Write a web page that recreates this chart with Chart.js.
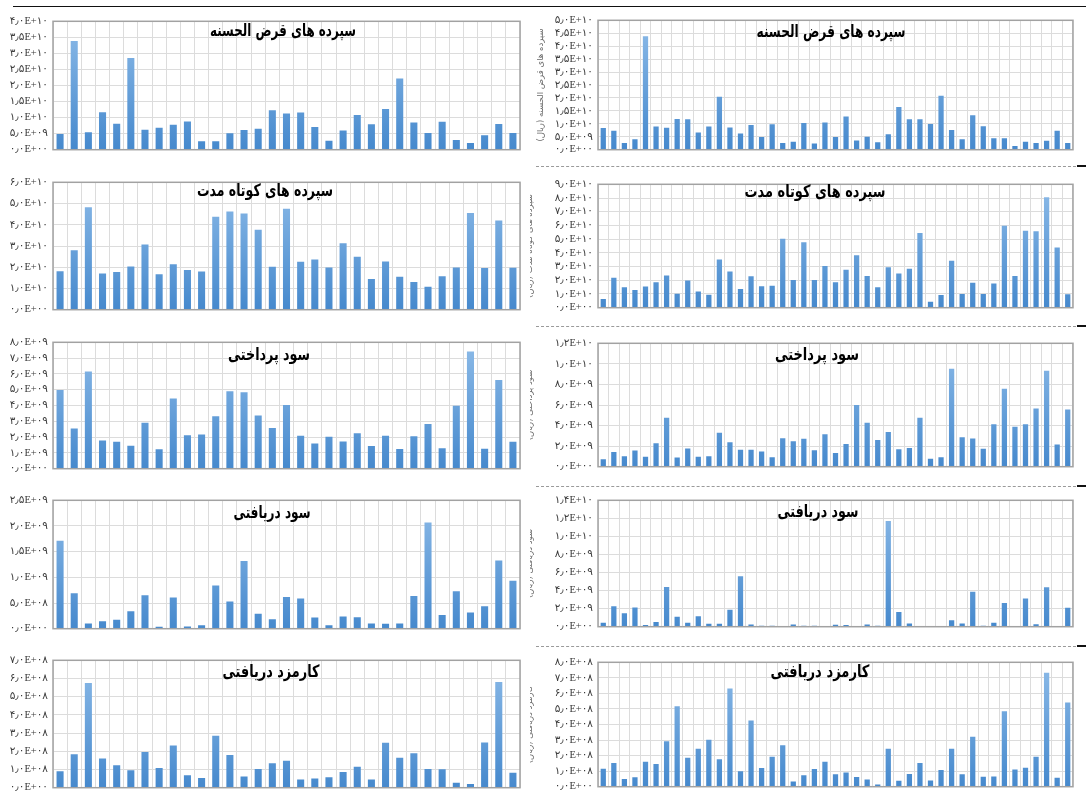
<!DOCTYPE html>
<html>
<head>
<meta charset="utf-8">
<script src="https://cdn.jsdelivr.net/npm/chart.js@4.4.1/dist/chart.umd.min.js"></script>
<style>
  html, body { margin: 0; padding: 0; background: #ffffff; }
  body { width: 1086px; height: 798px; position: relative; overflow: hidden; }
  .panel { position: absolute; overflow: hidden; }
  .panel canvas { position: absolute; top: 0; }
  .rule { position: absolute; height: 0; }
</style>
</head>
<body>
<!-- page rules -->
<div class="rule" style="left:13px; top:6px; width:1073px; border-top:1.5px solid #111;"></div>
<div class="rule" style="left:536px; top:166px; width:540px; border-top:1px dashed #9a9a9a;"></div>
<div class="rule" style="left:1077px; top:165px; width:9px; border-top:2px solid #111;"></div>
<div class="rule" style="left:536px; top:326px; width:540px; border-top:1px dashed #9a9a9a;"></div>
<div class="rule" style="left:1077px; top:325px; width:9px; border-top:2px solid #111;"></div>
<div class="rule" style="left:536px; top:486px; width:540px; border-top:1px dashed #9a9a9a;"></div>
<div class="rule" style="left:1077px; top:485px; width:9px; border-top:2px solid #111;"></div>
<div class="rule" style="left:536px; top:646px; width:540px; border-top:1px dashed #9a9a9a;"></div>
<div class="rule" style="left:1077px; top:645px; width:9px; border-top:2px solid #111;"></div>

<script>
// ---- categories (one bar per bank) ----
const banksA = [1,2,3,4,5,6,7,8,9,10,11,12,13,14,15,16,17,18,19,20,21,22,23,24,25,26,27,28,29,30,31,32,33];
const banksB = [1,2,3,4,5,6,7,8,9,10,11,12,13,14,15,16,17,18,19,20,21,22,23,24,25,26,27,28,29,30,31,32,33,34,35,36,37,38,39,40,41,42,43,44,45];

// ---- series values (ریال) ----
const gharzHasanehA = [4.9e9, 3.39e10, 5.4e9, 1.17e10, 8.1e9, 2.86e10, 6.2e9, 6.8e9, 7.8e9, 8.8e9, 2.6e9, 2.6e9, 5.1e9, 6.1e9, 6.5e9, 1.23e10, 1.13e10, 1.16e10, 7.1e9, 2.8e9, 6.0e9, 1.08e10, 7.9e9, 1.27e10, 2.22e10, 8.5e9, 5.2e9, 8.7e9, 3.0e9, 2.1e9, 4.5e9, 8.0e9, 5.2e9];
const gharzHasanehB = [8.4e9, 7.3e9, 2.6e9, 4.0e9, 4.38e10, 9.0e9, 8.5e9, 1.19e10, 1.18e10, 6.6e9, 9.0e9, 2.05e10, 8.6e9, 6.3e9, 9.5e9, 4.9e9, 9.8e9, 2.6e9, 3.1e9, 1.03e10, 2.4e9, 1.05e10, 4.9e9, 1.28e10, 3.6e9, 5.0e9, 2.9e9, 6.0e9, 1.65e10, 1.18e10, 1.18e10, 9.9e9, 2.08e10, 7.6e9, 4.0e9, 1.33e10, 9.1e9, 4.4e9, 4.4e9, 1.4e9, 3.1e9, 2.6e9, 3.5e9, 7.3e9, 2.6e9];

const shortTermA = [1.81e10, 2.80e10, 4.82e10, 1.70e10, 1.78e10, 2.04e10, 3.07e10, 1.67e10, 2.14e10, 1.87e10, 1.80e10, 4.38e10, 4.63e10, 4.53e10, 3.76e10, 2.02e10, 4.75e10, 2.26e10, 2.36e10, 1.99e10, 3.13e10, 2.49e10, 1.45e10, 2.27e10, 1.55e10, 1.31e10, 1.08e10, 1.58e10, 1.99e10, 4.56e10, 1.96e10, 4.20e10, 1.98e10];
const shortTermB = [6.4e9, 2.18e10, 1.50e10, 1.30e10, 1.55e10, 1.86e10, 2.34e10, 1.02e10, 1.98e10, 1.18e10, 9.5e9, 3.52e10, 2.64e10, 1.36e10, 2.30e10, 1.57e10, 1.61e10, 5.02e10, 2.02e10, 4.77e10, 2.02e10, 3.05e10, 1.86e10, 2.77e10, 3.82e10, 2.32e10, 1.50e10, 2.95e10, 2.50e10, 2.84e10, 5.45e10, 4.3e9, 9.3e9, 3.43e10, 1.00e10, 1.82e10, 1.00e10, 1.77e10, 5.98e10, 2.32e10, 5.61e10, 5.57e10, 8.05e10, 4.39e10, 9.8e9];

const paidProfitA = [4.98e9, 2.55e9, 6.15e9, 1.78e9, 1.70e9, 1.46e9, 2.91e9, 1.23e9, 4.45e9, 2.11e9, 2.17e9, 3.32e9, 4.90e9, 4.84e9, 3.36e9, 2.57e9, 4.03e9, 2.09e9, 1.60e9, 2.02e9, 1.72e9, 2.25e9, 1.44e9, 2.08e9, 1.25e9, 2.06e9, 2.83e9, 1.30e9, 3.99e9, 7.41e9, 1.26e9, 5.61e9, 1.70e9];
const paidProfitB = [7.2e8, 1.42e9, 1.02e9, 1.57e9, 9.6e8, 2.29e9, 4.76e9, 9.0e8, 1.78e9, 9.6e8, 1.02e9, 3.31e9, 2.38e9, 1.66e9, 1.66e9, 1.48e9, 9.3e8, 2.77e9, 2.47e9, 2.71e9, 1.60e9, 3.16e9, 1.33e9, 2.20e9, 5.99e9, 4.28e9, 2.59e9, 3.37e9, 1.69e9, 1.81e9, 4.76e9, 7.8e8, 9.3e8, 9.52e9, 2.86e9, 2.74e9, 1.75e9, 4.13e9, 7.59e9, 3.89e9, 4.13e9, 5.66e9, 9.34e9, 2.17e9, 5.57e9];

const receivedProfitA = [1.71e9, 6.92e8, 1.03e8, 1.46e8, 1.76e8, 3.40e8, 6.49e8, 3.6e7, 6.07e8, 4.2e7, 6.7e7, 8.43e8, 5.28e8, 1.317e9, 2.91e8, 1.82e8, 6.19e8, 5.89e8, 2.18e8, 6.7e7, 2.37e8, 2.25e8, 1.03e8, 9.7e7, 1.03e8, 6.37e8, 2.07e9, 2.67e8, 7.28e8, 3.16e8, 4.37e8, 1.33e9, 9.34e8];
const receivedProfitB = [4.3e8, 2.27e9, 1.49e9, 2.13e9, 1.8e8, 5.3e8, 4.40e9, 1.10e9, 4.3e8, 1.17e9, 3.2e8, 3.2e8, 1.88e9, 5.60e9, 2.5e8, 1.1e8, 1.1e8, 7e7, 2.5e8, 1.1e8, 1.1e8, 4e7, 2.1e8, 1.8e8, 7e7, 2.5e8, 1.1e8, 1.17e10, 1.63e9, 3.5e8, 0, 4e7, 7e7, 7.1e8, 3.5e8, 3.87e9, 1.1e8, 4.3e8, 2.62e9, 0, 3.12e9, 2.8e8, 4.36e9, 1e7, 2.09e9];

const feeIncomeA = [9.1e7, 1.84e8, 5.75e8, 1.60e8, 1.23e8, 9.6e7, 1.96e8, 1.08e8, 2.32e8, 6.9e7, 5.3e7, 2.86e8, 1.80e8, 6.2e7, 1.03e8, 1.34e8, 1.48e8, 4.5e7, 5.0e7, 5.8e7, 8.6e7, 1.15e8, 4.5e7, 2.47e8, 1.65e8, 1.89e8, 1.03e8, 1.01e8, 2.7e7, 2.1e7, 2.49e8, 5.81e8, 8.2e7];
const feeIncomeB = [1.16e8, 1.52e8, 5.0e7, 6.0e7, 1.60e8, 1.46e8, 2.92e8, 5.18e8, 1.86e8, 2.44e8, 3.02e8, 1.76e8, 6.32e8, 1.00e8, 4.26e8, 1.20e8, 1.92e8, 2.66e8, 3.4e7, 7.4e7, 1.14e8, 1.60e8, 8.0e7, 9.2e7, 6.2e7, 4.6e7, 1.4e7, 2.44e8, 3.8e7, 8.2e7, 1.52e8, 4.0e7, 1.08e8, 2.44e8, 8.0e7, 3.22e8, 6.4e7, 6.6e7, 4.86e8, 1.10e8, 1.22e8, 1.92e8, 7.32e8, 5.8e7, 5.42e8];

// ---- y tick labels ----
const ticksGharzA = ['۰٫۰E+۰۰','۵٫۰E+۰۹','۱٫۰E+۱۰','۱٫۵E+۱۰','۲٫۰E+۱۰','۲٫۵E+۱۰','۳٫۰E+۱۰','۳٫۵E+۱۰','۴٫۰E+۱۰'];
const ticksGharzB = ['۰٫۰E+۰۰','۵٫۰E+۰۹','۱٫۰E+۱۰','۱٫۵E+۱۰','۲٫۰E+۱۰','۲٫۵E+۱۰','۳٫۰E+۱۰','۳٫۵E+۱۰','۴٫۰E+۱۰','۴٫۵E+۱۰','۵٫۰E+۱۰'];
const ticksShortA = ['۰٫۰E+۰۰','۱٫۰E+۱۰','۲٫۰E+۱۰','۳٫۰E+۱۰','۴٫۰E+۱۰','۵٫۰E+۱۰','۶٫۰E+۱۰'];
const ticksShortB = ['۰٫۰E+۰۰','۱٫۰E+۱۰','۲٫۰E+۱۰','۳٫۰E+۱۰','۴٫۰E+۱۰','۵٫۰E+۱۰','۶٫۰E+۱۰','۷٫۰E+۱۰','۸٫۰E+۱۰','۹٫۰E+۱۰'];
const ticksPaidA = ['۰٫۰E+۰۰','۱٫۰E+۰۹','۲٫۰E+۰۹','۳٫۰E+۰۹','۴٫۰E+۰۹','۵٫۰E+۰۹','۶٫۰E+۰۹','۷٫۰E+۰۹','۸٫۰E+۰۹'];
const ticksPaidB = ['۰٫۰E+۰۰','۲٫۰E+۰۹','۴٫۰E+۰۹','۶٫۰E+۰۹','۸٫۰E+۰۹','۱٫۰E+۱۰','۱٫۲E+۱۰'];
const ticksReceivedA = ['۰٫۰E+۰۰','۵٫۰E+۰۸','۱٫۰E+۰۹','۱٫۵E+۰۹','۲٫۰E+۰۹','۲٫۵E+۰۹'];
const ticksReceivedB = ['۰٫۰E+۰۰','۲٫۰E+۰۹','۴٫۰E+۰۹','۶٫۰E+۰۹','۸٫۰E+۰۹','۱٫۰E+۱۰','۱٫۲E+۱۰','۱٫۴E+۱۰'];
const ticksFeeA = ['۰٫۰E+۰۰','۱٫۰E+۰۸','۲٫۰E+۰۸','۳٫۰E+۰۸','۴٫۰E+۰۸','۵٫۰E+۰۸','۶٫۰E+۰۸','۷٫۰E+۰۸'];
const ticksFeeB = ['۰٫۰E+۰۰','۱٫۰E+۰۸','۲٫۰E+۰۸','۳٫۰E+۰۸','۴٫۰E+۰۸','۵٫۰E+۰۸','۶٫۰E+۰۸','۷٫۰E+۰۸','۸٫۰E+۰۸'];

// ---- titles ----
const titleGharz = 'سپرده های قرض الحسنه';
const titleShort = 'سپرده های کوتاه مدت';
const titlePaid = 'سود پرداختی';
const titleReceived = 'سود دریافتی';
const titleFee = 'کارمزد دریافتی';
const axisGharz = 'سپرده های قرض الحسنه (ریال)';
const axisShort = 'سپرده های کوتاه مدت (ریال)';
const axisPaid = 'سود پرداختی (ریال)';
const axisReceived = 'سود دریافتی (ریال)';
const axisFee = 'کارمزد دریافتی (ریال)';

// ---- drawing ----
const PAD_T = 8, PAD_B = 6, PAD_R = 6;
const GRID = '#dcdcdc';
const TICK_FONT = { family: '"Liberation Serif", "DejaVu Sans", serif', size: 10.5 };

function barFill(c) {
  const chart = c.chart, a = chart.chartArea;
  if (!a) return '#5b9bd5';
  const g = chart.ctx.createLinearGradient(0, a.bottom, 0, a.top);
  g.addColorStop(0, '#4689cd');
  g.addColorStop(1, '#8dbbe8');
  return g;
}

const framePlugin = {
  id: 'plotFrame',
  afterDraw(chart) {
    const { ctx, chartArea: a } = chart;
    ctx.save();
    ctx.strokeStyle = '#a2a2a2';
    ctx.lineWidth = 1.5;
    ctx.strokeRect(a.left, a.top, a.right - a.left, a.bottom - a.top);
    ctx.restore();
  }
};

const titlePlugin = {
  id: 'panelTitle',
  afterDraw(chart, args, opts) {
    if (!opts || !opts.text) return;
    const ctx = chart.ctx;
    ctx.save();
    ctx.font = 'bold ' + opts.size + 'px "DejaVu Sans", sans-serif';
    ctx.fillStyle = '#000';
    ctx.textAlign = 'center';
    ctx.textBaseline = 'middle';
    ctx.direction = 'rtl';
    ctx.fillText(opts.text, opts.x, opts.y, opts.width);
    ctx.restore();
  }
};

function buildPanel(p) {
  const clipLeft = p.clipLeft;
  const cTop = p.plot.t - PAD_T;
  const cW = p.plot.r + PAD_R - p.canvasLeft;
  const cH = p.plot.b - p.plot.t + PAD_T + PAD_B;

  const wrap = document.createElement('div');
  wrap.className = 'panel';
  wrap.style.left = clipLeft + 'px';
  wrap.style.top = cTop + 'px';
  wrap.style.width = (p.plot.r + PAD_R - clipLeft) + 'px';
  wrap.style.height = cH + 'px';

  const cv = document.createElement('canvas');
  cv.width = cW; cv.height = cH;
  cv.style.width = cW + 'px'; cv.style.height = cH + 'px';
  cv.style.left = (p.canvasLeft - clipLeft) + 'px';
  wrap.appendChild(cv);
  document.body.appendChild(wrap);

  const axisW = p.plot.l - p.canvasLeft;

  new Chart(cv, {
    type: 'bar',
    data: {
      labels: p.categories,
      datasets: [{
        data: p.values,
        backgroundColor: barFill,
        borderWidth: 0,
        barPercentage: 0.96,
        categoryPercentage: 0.52
      }]
    },
    options: {
      responsive: false,
      animation: false,
      devicePixelRatio: 1,
      layout: { padding: { top: PAD_T, bottom: PAD_B, right: PAD_R, left: 0 } },
      plugins: {
        legend: { display: false },
        tooltip: { enabled: false },
        panelTitle: { text: p.title, size: 17, width: p.titleW, x: p.titleX - p.canvasLeft, y: p.titleY - cTop }
      },
      scales: {
        x: {
          grid: { color: GRID, lineWidth: 1, drawTicks: false, offset: true },
          ticks: { display: false },
          border: { display: false },
          afterFit(s) { s.height = 0; }
        },
        y: {
          min: 0,
          max: p.max,
          grid: { color: GRID, lineWidth: 1, drawTicks: false },
          border: { display: false },
          ticks: {
            stepSize: p.step,
            autoSkip: false,
            padding: 5,
            color: '#3a3a3a',
            font: TICK_FONT,
            callback: (v) => p.tickLabels[Math.round(v / p.step)]
          },
          title: {
            display: !!p.axisTitle,
            text: p.axisTitle,
            color: '#6a6a6a',
            font: { family: '"DejaVu Sans", sans-serif', size: 8.5 },
            padding: { top: p.axisTitlePad || 0, bottom: 0 }
          },
          afterFit(s) { s.width = axisW; }
        }
      }
    },
    plugins: [framePlugin, titlePlugin]
  });
}

const panels = [
  { categories: banksA, values: gharzHasanehA, tickLabels: ticksGharzA, max: 4e10, step: 5e9,
    title: titleGharz, titleW: 146, titleX: 283, titleY: 32,
    canvasLeft: 0, clipLeft: 0, plot: { l: 53, t: 18, r: 520, b: 155 } },
  { categories: banksB, values: gharzHasanehB, tickLabels: ticksGharzB, max: 5e10, step: 5e9,
    title: titleGharz, titleW: 149, titleX: 831, titleY: 33, axisTitle: axisGharz, axisTitlePad: 16,
    canvasLeft: 520, clipLeft: 530, plot: { l: 598, t: 17, r: 1073, b: 155 } },

  { categories: banksA, values: shortTermA, tickLabels: ticksShortA, max: 6e10, step: 1e10,
    title: titleShort, titleW: 136, titleX: 265, titleY: 192,
    canvasLeft: 0, clipLeft: 0, plot: { l: 53, t: 179, r: 520, b: 315 } },
  { categories: banksB, values: shortTermB, tickLabels: ticksShortB, max: 9e10, step: 1e10,
    title: titleShort, titleW: 141, titleX: 815, titleY: 193, axisTitle: axisShort, axisTitlePad: 5,
    canvasLeft: 520, clipLeft: 530, plot: { l: 598, t: 181, r: 1073, b: 313 } },

  { categories: banksA, values: paidProfitA, tickLabels: ticksPaidA, max: 8e9, step: 1e9,
    title: titlePaid, titleW: 82, titleX: 269, titleY: 356,
    canvasLeft: 0, clipLeft: 0, plot: { l: 53, t: 339, r: 520, b: 474 } },
  { categories: banksB, values: paidProfitB, tickLabels: ticksPaidB, max: 1.2e10, step: 2e9,
    title: titlePaid, titleW: 84, titleX: 817, titleY: 356, axisTitle: axisPaid, axisTitlePad: 5,
    canvasLeft: 520, clipLeft: 530, plot: { l: 598, t: 340, r: 1073, b: 472 } },

  { categories: banksA, values: receivedProfitA, tickLabels: ticksReceivedA, max: 2.5e9, step: 5e8,
    title: titleReceived, titleW: 77, titleX: 272, titleY: 514,
    canvasLeft: 0, clipLeft: 0, plot: { l: 53, t: 497, r: 520, b: 634 } },
  { categories: banksB, values: receivedProfitB, tickLabels: ticksReceivedB, max: 1.4e10, step: 2e9,
    title: titleReceived, titleW: 81, titleX: 818, titleY: 513, axisTitle: axisReceived, axisTitlePad: 5,
    canvasLeft: 520, clipLeft: 530, plot: { l: 598, t: 497, r: 1073, b: 632 } },

  { categories: banksA, values: feeIncomeA, tickLabels: ticksFeeA, max: 7e8, step: 1e8,
    title: titleFee, titleW: 97, titleX: 271, titleY: 673,
    canvasLeft: 0, clipLeft: 0, plot: { l: 53, t: 657, r: 520, b: 793 } },
  { categories: banksB, values: feeIncomeB, tickLabels: ticksFeeB, max: 8e8, step: 1e8,
    title: titleFee, titleW: 99, titleX: 820, titleY: 673, axisTitle: axisFee, axisTitlePad: 5,
    canvasLeft: 520, clipLeft: 530, plot: { l: 598, t: 659, r: 1073, b: 792 } }
];

panels.forEach(buildPanel);
</script>
</body>
</html>
